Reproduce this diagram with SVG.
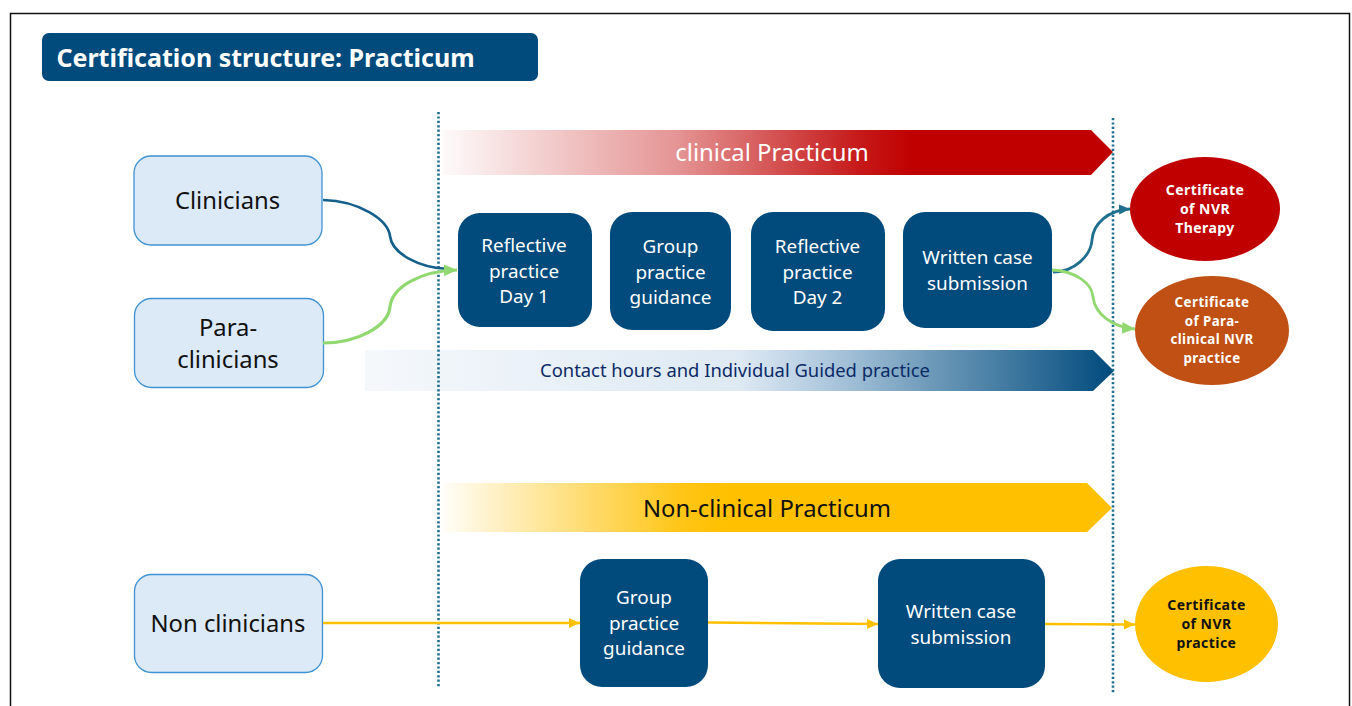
<svg xmlns="http://www.w3.org/2000/svg" width="1352" height="706" viewBox="0 0 1352 706">
<style>
text{font-family:"Noto Sans","Open Sans","Liberation Sans",sans-serif;text-anchor:middle}
.lb rect{fill:#dce9f6;stroke:#3f93d2;stroke-width:1.3}
.lb text{font-size:23.800px;fill:#111}
.db rect{fill:#004a7c}
.db text{font-size:18.900px;fill:#fff}
.ct{font-family:Inter,"Liberation Sans",sans-serif;font-size:14px;font-weight:700;letter-spacing:.45px}
.vl{stroke:#1f6f8f;stroke-width:2.600;stroke-dasharray:2.200 2.200;fill:none}
.c{fill:none}
</style>
<defs>
<linearGradient id="gr"><stop offset="0" stop-color="#c00000" stop-opacity=".02"/><stop offset=".35" stop-color="#c00000" stop-opacity=".42"/><stop offset=".62" stop-color="#c00000" stop-opacity=".9"/><stop offset=".7" stop-color="#c00000"/></linearGradient>
<linearGradient id="gb"><stop offset="0" stop-color="#2e75b6" stop-opacity=".05"/><stop offset=".5" stop-color="#2e75b6" stop-opacity=".16"/><stop offset=".75" stop-color="#10598c" stop-opacity=".6"/><stop offset="1" stop-color="#004a7c"/></linearGradient>
<linearGradient id="gy"><stop offset="0" stop-color="#ffc000" stop-opacity=".03"/><stop offset=".35" stop-color="#ffc000" stop-opacity=".9"/><stop offset=".42" stop-color="#ffc000"/></linearGradient>
<marker id="mb" markerUnits="userSpaceOnUse" markerWidth="12" markerHeight="12" refX="11" refY="6" orient="auto"><path d="M0 1L11 6L0 11Z" fill="#1f6f8f"/></marker>
<marker id="mg" markerUnits="userSpaceOnUse" markerWidth="14" markerHeight="14" refX="13" refY="7" orient="auto"><path d="M0 1L13 7L0 13Z" fill="#92d870"/></marker>
<marker id="my" markerUnits="userSpaceOnUse" markerWidth="12" markerHeight="12" refX="11" refY="6" orient="auto"><path d="M0 1L11 6L0 11Z" fill="#ffc000"/></marker>
</defs>
<rect x="10.500" y="13.500" width="1339" height="700" fill="#fff" stroke="#111" stroke-width="1.500"/>
<g id="title"><rect x="42" y="33" width="496" height="48" rx="7" fill="#004a7c"/><text x="265.500" y="67" font-size="25" font-weight="700" fill="#fff">Certification structure: Practicum</text></g>
<g id="band-clinical"><path d="M443 130H1091L1113 152L1091 175H443Z" fill="url(#gr)"/><text x="772" y="161" font-size="23.800" fill="#fff">clinical Practicum</text></g>
<g id="band-contact"><path d="M365 350H1093L1114 371L1093 391H365Z" fill="url(#gb)"/><text x="735" y="377" font-size="18.400" fill="#0b2a66">Contact hours and Individual Guided practice</text></g>
<g id="band-nonclinical"><path d="M443 483H1087L1112 508L1087 532H443Z" fill="url(#gy)"/><text x="767" y="517" font-size="23.800" fill="#111">Non-clinical Practicum</text></g>
<g id="clinicians" class="lb"><rect x="134" y="156" width="188" height="89" rx="17"/><text x="227.500" y="209">Clinicians</text></g>
<g id="para-clinicians" class="lb"><rect x="134.500" y="298.500" width="189" height="89" rx="17"/><text x="228" y="336">Para-</text><text x="228" y="368">clinicians</text></g>
<g id="non-clinicians" class="lb"><rect x="134.500" y="574.500" width="188" height="98" rx="17"/><text x="228" y="632">Non clinicians</text></g>
<g id="reflective-1" class="db"><rect x="458" y="213" width="134" height="114" rx="22"/><text x="524" y="252">Reflective</text><text x="524" y="278">practice</text><text x="524" y="303">Day 1</text></g>
<g id="group-guidance" class="db"><rect x="610" y="212" width="121" height="118" rx="22"/><text x="670.500" y="253">Group</text><text x="670.500" y="279">practice</text><text x="670.500" y="304">guidance</text></g>
<g id="reflective-2" class="db"><rect x="751" y="212" width="134" height="119" rx="22"/><text x="817.500" y="253">Reflective</text><text x="817.500" y="279">practice</text><text x="817.500" y="304">Day 2</text></g>
<g id="written-case" class="db"><rect x="903" y="212" width="149" height="116" rx="22"/><text x="977.500" y="264">Written case</text><text x="977.500" y="290">submission</text></g>
<g id="group-guidance-2" class="db"><rect x="580" y="559" width="128" height="128" rx="22"/><text x="644" y="604">Group</text><text x="644" y="630">practice</text><text x="644" y="655">guidance</text></g>
<g id="written-case-2" class="db"><rect x="878" y="559" width="167" height="129" rx="22"/><text x="961" y="618">Written case</text><text x="961" y="644">submission</text></g>
<g id="cert-therapy"><ellipse cx="1205" cy="209" rx="75" ry="52" fill="#c00000"/><g class="ct" fill="#fff"><text x="1205" y="194.500">Certificate</text><text x="1205" y="213.500">of NVR</text><text x="1205" y="232.500">Therapy</text></g></g>
<g id="cert-para"><ellipse cx="1212" cy="330.500" rx="77" ry="54.500" fill="#c05014"/><g class="ct" fill="#fff" style="font-size:13.300px"><text x="1212" y="307">Certificate</text><text x="1212" y="325.500">of Para-</text><text x="1212" y="344">clinical NVR</text><text x="1212" y="363">practice</text></g></g>
<g id="cert-practice"><ellipse cx="1206.500" cy="624" rx="71.500" ry="58" fill="#ffc000"/><g class="ct" fill="#111"><text x="1206.500" y="610">Certificate</text><text x="1206.500" y="629">of NVR</text><text x="1206.500" y="648">practice</text></g></g>
<g id="connectors">
<path class="vl" d="M438.500 112V688"/><path class="vl" d="M1113 118V693"/>
<path class="c" d="M323 200C360 201 388 220 390 236C392 254 420 268 448 269" stroke="#14608a" stroke-width="2.600"/>
<path class="c" d="M323 343C358 343 388 326 390 307C392 287 420 271 457 270" stroke="#92d870" stroke-width="3.200" marker-end="url(#mg)"/>
<path class="c" d="M1053 272C1075 272 1091 255 1092 240C1093 224 1108 210 1130 209" stroke="#1f6f8f" stroke-width="2.800" marker-end="url(#mb)"/>
<path class="c" d="M1052 270C1075 271 1092 283 1093 297C1095 314 1112 327 1135 329" stroke="#92d870" stroke-width="2.800" marker-end="url(#mg)"/>
<path class="c" d="M323 623L580 623" stroke="#ffc000" stroke-width="2.400" marker-end="url(#my)"/>
<path class="c" d="M708 622.500L878 624" stroke="#ffc000" stroke-width="2.400" marker-end="url(#my)"/>
<path class="c" d="M1045 624L1135 624.500" stroke="#ffc000" stroke-width="2.400" marker-end="url(#my)"/>
</g>
</svg>
